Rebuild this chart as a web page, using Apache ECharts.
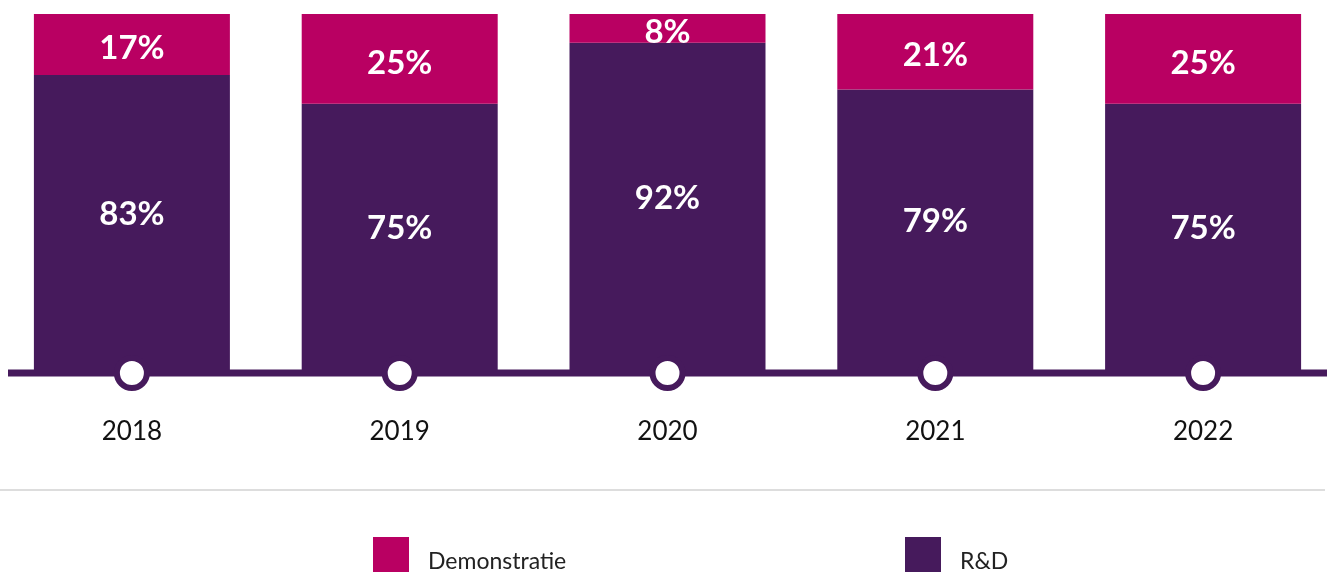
<!doctype html>
<html>
<head>
<meta charset="utf-8" />
<title></title>
<script src="https://cdn.jsdelivr.net/npm/echarts@6/dist/echarts.min.js"></script>
<style>
  html, body { margin: 0; padding: 0; background: #fff; }
  #main { width: 1328px; height: 572px; }
</style>
</head>
<body>
<div id="main"></div>
<script>
// jaren en aandelen (%)
var years = ['2018', '2019', '2020', '2021', '2022'];
var rdData = [83, 75, 92, 79, 75];
var demoData = [17, 25, 8, 21, 25];
var axisDots = [0, 0, 0, 0, 0];

var purple = '#461a5c';
var magenta = '#b90062';
var font = 'Lato';

var myChart = echarts.init(document.getElementById('main'));

var legendText = {
  fontSize: 23, color: '#222',
  rich: { t: { fontSize: 23, color: '#222', fontFamily: font, padding: [14, 0, 0, 14] } }
};

var option = {
  animation: false,
  textStyle: { fontFamily: font },
  grid: { left: -2, right: -9, top: 14, bottom: 199, outerBoundsMode: 'none' },
  legend: [{
    data: ['Demonstratie'],
    left: 373, top: 537, padding: 0,
    itemWidth: 36, itemHeight: 36,
    icon: 'rect',
    formatter: '{t|{name}}',
    textStyle: legendText
  }, {
    data: ['R&D'],
    left: 905, top: 537, padding: 0,
    itemWidth: 36, itemHeight: 36,
    icon: 'rect',
    formatter: '{t|{name}}',
    textStyle: legendText
  }],
  xAxis: {
    type: 'category',
    data: years,
    axisLine: { show: false },
    axisTick: { show: false },
    axisLabel: { margin: 46, fontSize: 26, color: '#111', fontFamily: font }
  },
  yAxis: {
    type: 'value',
    min: 0, max: 100,
    show: false,
    splitLine: { show: false }
  },
  graphic: [{
    type: 'line', z: 10,
    shape: { x1: 8, y1: 373, x2: 1327, y2: 373 },
    style: { stroke: purple, lineWidth: 7 }
  }, {
    type: 'line', z: 10,
    shape: { x1: 0, y1: 490, x2: 1325, y2: 490 },
    style: { stroke: '#dddddd', lineWidth: 2 }
  }],
  series: [{
    name: 'R&D',
    type: 'bar',
    stack: 'totaal',
    barWidth: 196,
    data: rdData,
    itemStyle: { color: purple },
    label: {
      show: true, position: 'inside', offset: [0, -10],
      formatter: '{c}%', color: '#fff', fontSize: 33, fontWeight: 'bold', fontFamily: font
    }
  }, {
    name: 'Demonstratie',
    type: 'bar',
    stack: 'totaal',
    barWidth: 196,
    data: demoData,
    itemStyle: { color: magenta },
    label: {
      show: true, position: 'inside', offset: [0, 4],
      formatter: '{c}%', color: '#fff', fontSize: 33, fontWeight: 'bold', fontFamily: font
    }
  }, {
    type: 'scatter',
    data: axisDots,
    symbol: 'circle',
    symbolSize: 30,
    z: 20,
    silent: true,
    itemStyle: { color: '#fff', borderColor: purple, borderWidth: 6, opacity: 1 }
  }]
};

myChart.setOption(option);
</script>
</body>
</html>
